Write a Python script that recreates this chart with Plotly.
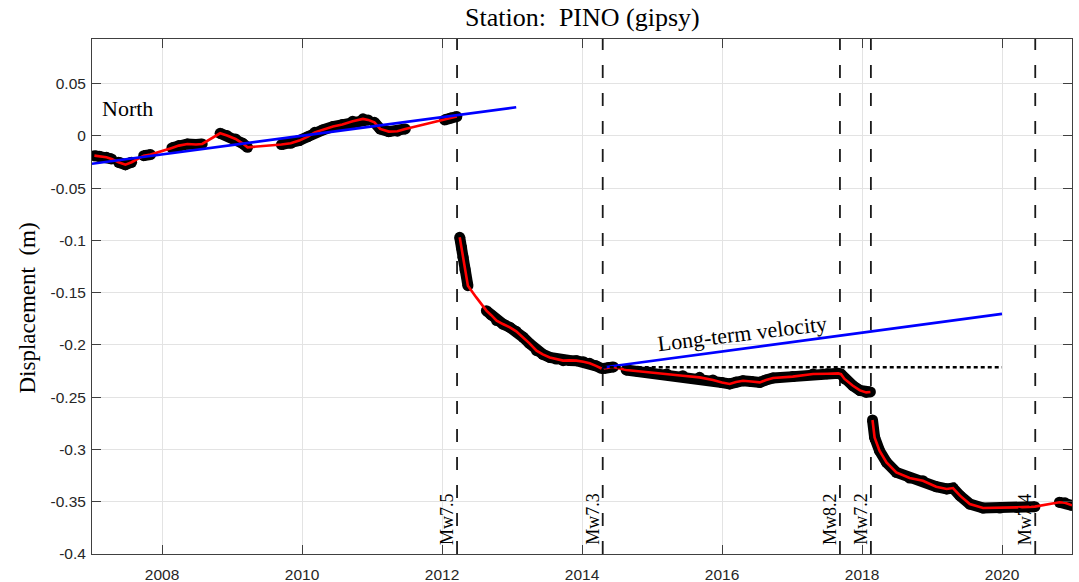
import plotly.graph_objects as go

# ---------------- data ----------------
# GPS north component, station PINO (gipsy); None marks a data gap
obs_t_a = [2007.034, 2007.108, 2007.206, 2007.280, None,
           2007.379, 2007.477, 2007.566, None,
           2007.738, 2007.836, None,
           2008.141, 2008.240, 2008.363, 2008.486, 2008.574, None,
           2008.830, 2008.929, 2009.051, 2009.150, 2009.223, None,
           2009.706, 2009.839, 2009.961, 2010.084, 2010.183, 2010.296,
           2010.443, 2010.576, 2010.724, 2010.871, 2010.945, None,
           2011.034, 2011.117, 2011.240, 2011.363, 2011.476, None,
           2012.037, 2012.126, 2012.212]
obs_d_a = [-0.0189, -0.0195, -0.0205, -0.0220, None,
           -0.0252, -0.0275, -0.0252, None,
           -0.0189, -0.0179, None,
           -0.0115, -0.0093, -0.0077, -0.0083, -0.0077, None,
           0.0025, 0.0003, -0.0029, -0.0071, -0.0109, None,
           -0.0083, -0.0071, -0.0045, -0.0007, 0.0034, 0.0057,
           0.0089, 0.0108, 0.0140, 0.0163, 0.0153, None,
           0.0130, 0.0067, 0.0041, 0.0045, 0.0067, None,
           0.0153, 0.0172, 0.0185]

obs_t_b = [2012.253, 2012.280, 2012.300, 2012.330, 2012.370, None,
           2012.634, 2012.700, 2012.780, 2012.870, 2012.970, 2013.060,
           2013.160, 2013.250, 2013.350, 2013.440, 2013.540, 2013.630,
           2013.730, 2013.820, 2013.920, 2014.020, 2014.110, 2014.200,
           2014.280]
obs_d_b = [-0.0970, -0.1070, -0.1162, -0.1280, -0.1433, None,
           -0.1672, -0.1713, -0.1767, -0.1800, -0.1832, -0.1870,
           -0.1927, -0.1985, -0.2055, -0.2090, -0.2119, -0.2135,
           -0.2150, -0.2148, -0.2150, -0.2160, -0.2176, -0.2200,
           -0.2225]

obs_t_c = [2014.310, 2014.380, 2014.450, None,
           2014.630, 2014.800, 2014.970, 2015.210, 2015.440, 2015.680,
           2015.870, 2016.000, 2016.110, 2016.200, 2016.300, 2016.420,
           2016.540, 2016.630, 2016.730, 2017.010, 2017.300, 2017.500,
           2017.660, 2017.700, 2017.750, 2017.870, 2017.970, 2018.060,
           2018.120]
obs_d_c = [-0.2225, -0.2215, -0.2210, None,
           -0.2239, -0.2252, -0.2262, -0.2278, -0.2294, -0.2310,
           -0.2335, -0.2360, -0.2373, -0.2355, -0.2342, -0.2350,
           -0.2358, -0.2335, -0.2316, -0.2303, -0.2278, -0.2275,
           -0.2272, -0.2280, -0.2325, -0.2390, -0.2435, -0.2454,
           -0.2450]

obs_t_d = [2018.150, 2018.180, 2018.250, 2018.350, 2018.490, 2018.680,
           2018.870, 2019.060, 2019.210, 2019.300, 2019.400, 2019.540,
           2019.730, 2019.970, 2020.210, 2020.470, None,
           2020.820, 2020.900, 2021.000]
obs_d_d = [-0.2718, -0.2884, -0.3012, -0.3123, -0.3219, -0.3273,
           -0.3299, -0.3356, -0.3378, -0.3369, -0.3442, -0.3522,
           -0.3560, -0.3560, -0.3554, -0.3547, None,
           -0.3505, -0.3510, -0.3535]

# trajectory-model node inside the 2012 post-seismic data gap
model_gap_t = [2012.490]
model_gap_d = [-0.1545]

# long-term (inter-seismic) velocity lines
vel_t1 = [2007.0, 2013.06]
vel_d1 = [-0.0266, 0.0274]
vel_t2 = [2014.296, 2020.0]
vel_d2 = [-0.2216, -0.1703]

# reference level (dotted)
ref_t = [2014.296, 2020.0]
ref_d = [-0.2214, -0.2214]

# earthquakes
event_t = [2012.215, 2014.296, 2017.685, 2018.127, 2020.475]
event_labels = ["Mw7.5", "Mw7.3", "Mw8.2", "Mw7.2", "Mw7.4"]

# axes
x_range = [2007.0, 2021.0]
y_range = [-0.4, 0.0927]
x_tickvals = [2008, 2010, 2012, 2014, 2016, 2018, 2020]
x_ticktext = ["2008", "2010", "2012", "2014", "2016", "2018", "2020"]
y_tickvals = [-0.4, -0.35, -0.3, -0.25, -0.2, -0.15, -0.1, -0.05, 0, 0.05]
y_ticktext = ["-0.4", "-0.35", "-0.3", "-0.25", "-0.2", "-0.15", "-0.1", "-0.05", "0", "0.05"]

# ---------------- figure ----------------
SERIF = "Liberation Serif, Times New Roman, serif"
SANS = "Liberation Sans, Arial, Helvetica, sans-serif"

fig = go.Figure()

# earthquake lines
for t in event_t:
    fig.add_trace(go.Scatter(x=[t, t], y=y_range, mode="lines",
                             line=dict(color="#1a1a1a", width=1.8, dash="13px,15px"),
                             hoverinfo="skip", showlegend=False))


def joined(ts, ds):
    pairs = [(t, d) for t, d in zip(ts, ds) if t is not None]
    return [p[0] for p in pairs], [p[1] for p in pairs]


# observations (black)
for ts, ds in [(obs_t_a, obs_d_a), (obs_t_b, obs_d_b), (obs_t_c, obs_d_c), (obs_t_d, obs_d_d)]:
    fig.add_trace(go.Scatter(x=ts, y=ds, mode="lines+markers",
                             line=dict(color="black", width=11),
                             marker=dict(color="black", size=11),
                             connectgaps=False, showlegend=False))

# model (red)
mt_a, md_a = joined(obs_t_a, obs_d_a)
mt_b, md_b = joined(obs_t_b, obs_d_b)
pairs_b = sorted(zip(mt_b + model_gap_t, md_b + model_gap_d))
mt_b, md_b = [p[0] for p in pairs_b], [p[1] for p in pairs_b]
mt_c, md_c = joined(obs_t_c, obs_d_c)
mt_d, md_d = joined(obs_t_d, obs_d_d)
for ts, ds in [(mt_a, md_a), (mt_b, md_b), (mt_c, md_c), (mt_d, md_d)]:
    fig.add_trace(go.Scatter(x=ts, y=ds, mode="lines",
                             line=dict(color="#ff0000", width=2.6),
                             showlegend=False))

# velocity and reference lines
fig.add_trace(go.Scatter(x=vel_t1, y=vel_d1, mode="lines",
                         line=dict(color="#0000ff", width=2.6), showlegend=False))
fig.add_trace(go.Scatter(x=vel_t2, y=vel_d2, mode="lines",
                         line=dict(color="#0000ff", width=2.6), showlegend=False))
fig.add_trace(go.Scatter(x=ref_t, y=ref_d, mode="lines",
                         line=dict(color="black", width=2.6, dash="4px,3px"), showlegend=False))

# earthquake labels
for t, lab in zip(event_t, event_labels):
    fig.add_annotation(x=t, y=-0.3665, xref="x", yref="y", text=lab, textangle=-90,
                       showarrow=False, xanchor="center", yanchor="middle", xshift=-10,
                       font=dict(family=SERIF, size=18, color="black"))

fig.add_annotation(x=2007.11, y=0.0266, xref="x", yref="y", text="North",
                   showarrow=False, xanchor="left", yanchor="middle",
                   font=dict(family=SERIF, size=22, color="black"))
fig.add_annotation(x=2016.29, y=-0.1887, xref="x", yref="y", text="Long-term velocity",
                   showarrow=False, xanchor="center", yanchor="middle", textangle=-7,
                   font=dict(family=SERIF, size=22, color="black"))

# y-axis title and title
fig.add_annotation(x=-0.0663, y=0.5, xref="paper", yref="paper", text="Displacement  (m)",
                   textangle=-90, showarrow=False, xanchor="center", yanchor="middle",
                   yshift=-12,
                   font=dict(family=SERIF, size=23, color="black"))
fig.add_annotation(x=0.5, y=1, xref="paper", yref="paper", text="Station:  PINO (gipsy)",
                   showarrow=False, xanchor="center", yanchor="bottom", yshift=5,
                   font=dict(family=SERIF, size=26, color="black"))

fig.update_layout(
    width=1079, height=582,
    margin=dict(l=92, r=7, t=39, b=28, pad=0, autoexpand=False),
    plot_bgcolor="white", paper_bgcolor="white",
    showlegend=False,
)
fig.update_xaxes(range=x_range, tickvals=x_tickvals, ticktext=x_ticktext,
                 showgrid=True, gridcolor="#e3e3e3", gridwidth=1, zeroline=False,
                 showline=True, linecolor="#404040", linewidth=1, mirror="ticks",
                 ticks="inside", ticklen=9, tickcolor="#404040", tickwidth=1,
                 ticklabelstandoff=6, automargin=False,
                 tickfont=dict(family=SANS, size=15.5, color="#262626"))
fig.update_yaxes(range=y_range, tickvals=y_tickvals, ticktext=y_ticktext,
                 showgrid=True, gridcolor="#e3e3e3", gridwidth=1, zeroline=False,
                 showline=True, linecolor="#404040", linewidth=1, mirror="ticks",
                 ticks="inside", ticklen=9, tickcolor="#404040", tickwidth=1,
                 ticklabelstandoff=2, automargin=False,
                 tickfont=dict(family=SANS, size=15.5, color="#262626"))

fig.write_html("out.html",
               config={"displayModeBar": False, "displaylogo": False},
               post_script="document.body.style.margin='0';document.body.style.overflow='hidden';")
